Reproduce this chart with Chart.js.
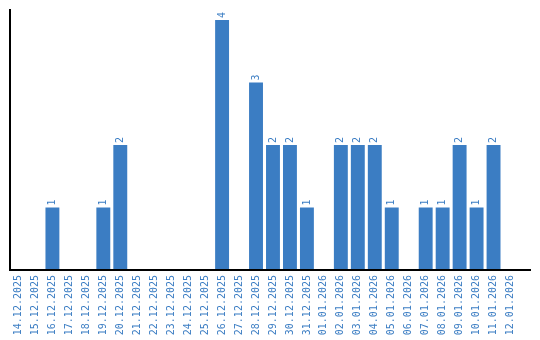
<!DOCTYPE html>
<html>
<head>
<meta charset="utf-8">
<script src="https://cdn.jsdelivr.net/npm/chart.js@4/dist/chart.umd.min.js"></script>
<style>
html,body{margin:0;padding:0;background:#fff;}
#wrap{width:540px;height:340px;position:relative;}
</style>
</head>
<body>
<div id="wrap"><canvas id="c" width="540" height="340"></canvas></div>
<script>
const dates = ["14.12.2025","15.12.2025","16.12.2025","17.12.2025","18.12.2025","19.12.2025","20.12.2025","21.12.2025","22.12.2025","23.12.2025","24.12.2025","25.12.2025","26.12.2025","27.12.2025","28.12.2025","29.12.2025","30.12.2025","31.12.2025","01.01.2026","02.01.2026","03.01.2026","04.01.2026","05.01.2026","06.01.2026","07.01.2026","08.01.2026","09.01.2026","10.01.2026","11.01.2026","12.01.2026"];
const counts = [0,0,1,0,0,1,2,0,0,0,0,0,4,0,3,2,2,1,0,2,2,2,1,0,1,1,2,1,2,0];
const yMax = 4.16;

const BLUE = "#3b7dc3";
const FONT = {family: "'DejaVu Sans Mono', monospace", size: 10};

const valueLabels = {
  id: 'valueLabels',
  afterDatasetsDraw(chart) {
    const ctx = chart.ctx;
    const meta = chart.getDatasetMeta(0);
    ctx.save();
    ctx.fillStyle = BLUE;
    ctx.font = FONT.size + "px " + FONT.family;
    ctx.textAlign = 'left';
    ctx.textBaseline = 'middle';
    meta.data.forEach((el, i) => {
      const v = counts[i];
      if (!v) return;
      ctx.save();
      ctx.translate(el.x, el.y - 2);
      ctx.rotate(-Math.PI / 2);
      ctx.fillText(String(v), 0, 0);
      ctx.restore();
    });
    ctx.restore();
  },
  afterDraw(chart) {
    const ctx = chart.ctx, a = chart.chartArea;
    ctx.save();
    ctx.strokeStyle = '#000';
    ctx.lineWidth = 2;
    ctx.beginPath();
    ctx.moveTo(a.left, a.bottom);
    ctx.lineTo(a.right + 12, a.bottom);
    ctx.stroke();
    ctx.restore();
  }
};

new Chart(document.getElementById('c'), {
  type: 'bar',
  data: {
    labels: dates,
    datasets: [{
      data: counts,
      backgroundColor: BLUE,
      borderWidth: 0,
      categoryPercentage: 1,
      barPercentage: 0.82
    }]
  },
  options: {
    responsive: false,
    animation: false,
    devicePixelRatio: 1,
    layout: {padding: {left: 10, right: 21, top: 10, bottom: 0}},
    plugins: {legend: {display: false}, tooltip: {enabled: false}},
    scales: {
      x: {
        offset: true,
        grid: {display: false, drawTicks: false},
        border: {display: false},
        ticks: {
          color: BLUE, font: FONT, padding: 5,
          minRotation: 90, maxRotation: 90, autoSkip: false
        },
        afterFit(s) { s.height = 70; }
      },
      y: {
        min: 0, max: yMax,
        grid: {display: false, drawTicks: false},
        border: {display: true, color: '#000', width: 2},
        ticks: {display: false},
        afterFit(s) { s.width = 0; }
      }
    }
  },
  plugins: [valueLabels]
});
</script>
</body>
</html>
